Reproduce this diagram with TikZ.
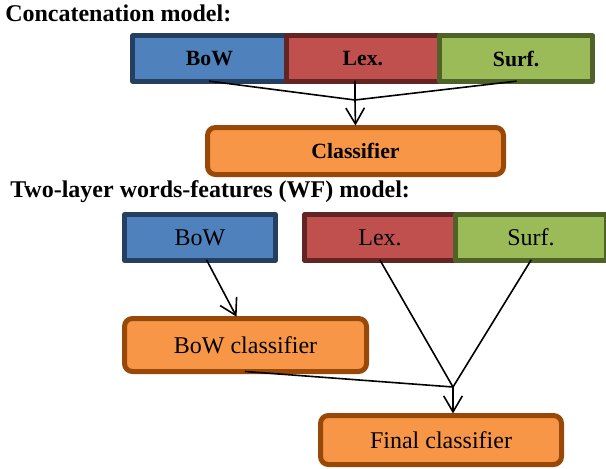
\documentclass[tikz,border=0pt]{standalone}
\usepackage{fontspec}
\setmainfont{Liberation Serif}
\usetikzlibrary{positioning,arrows.meta}
\definecolor{bowfill}{HTML}{4F81BD}
\definecolor{bowline}{HTML}{243F60}
\definecolor{lexfill}{HTML}{C0504D}
\definecolor{lexline}{HTML}{632523}
\definecolor{surffill}{HTML}{9BBB59}
\definecolor{surfline}{HTML}{4F6228}
\definecolor{clsfill}{HTML}{F79646}
\definecolor{clsline}{HTML}{984807}
\tikzset{
  feat/.style={line width=3.75pt, outer sep=0pt, inner sep=0pt, minimum height=34pt},
  clsbox/.style={draw=clsline, fill=clsfill, line width=3.75pt, rounded corners=6pt, outer sep=0pt, inner sep=0pt},
  bowbox/.style={feat, draw=bowline, fill=bowfill},
  lexbox/.style={feat, draw=lexline, fill=lexfill},
  surfbox/.style={feat, draw=surfline, fill=surffill},
  title/.style={anchor=base west, inner sep=0pt, font=\fontsize{18}{20}\selectfont\bfseries},
  arr/.style={line width=1.2pt, -{Straight Barb[length=12pt,width=14pt]}}
}
\begin{document}
\begin{tikzpicture}[x=0.75pt, y=-0.75pt, line join=round, line cap=round]
  \useasboundingbox (0,0) rectangle (606,468);
  % concatenation model
  \node[title] (titleA) at (5,21) {Concatenation model:};
  \begin{scope}[font=\fontsize{16.3}{18}\selectfont\bfseries, every node/.append style={minimum width=115pt, minimum height=33.75pt}]
    \node[bowbox] (bowA) at (209.5,58.5) {BoW};
    \node[lexbox, right=0pt of bowA] (lexA) {Lex.};
    \node[surfbox, right=0pt of lexA] (surfA) {Surf.};
    \node[clsbox, minimum width=222pt, minimum height=35.25pt] (clsA) at (355.5,151) {Classifier};
  \end{scope}
  \coordinate (joinA) at (355,100);
  \draw[line width=1.2pt] (bowA.south) -- (joinA) -- (surfA.south) (lexA.south -| joinA) -- (joinA);
  \draw[arr, shorten >=1.5pt] (joinA) -- (clsA.north);
  % two-layer WF model
  \node[title] (titleB) at (10,197) {Two-layer words-features (WF) model:};
  \begin{scope}[font=\fontsize{18}{20}\selectfont, every node/.append style={minimum width=113.25pt, minimum height=34.5pt}]
    \node[bowbox] (bowB) at (200,237.5) {BoW};
    \node[lexbox] (lexB) at (380,237.5) {Lex.};
    \node[surfbox, right=0pt of lexB] (surfB) {Surf.};
    \node[clsbox, minimum width=181.5pt, minimum height=39.75pt] (bowcls) at (245.5,345) {BoW classifier};
    \node[clsbox, minimum width=180.75pt, minimum height=36.75pt] (finalcls) at (441,440) {Final classifier};
  \end{scope}
  \coordinate (joinB) at (453,387);
  \draw[arr, shorten >=1.5pt] ([xshift=5pt]bowB.south) -- ([xshift=-6pt]bowcls.north);
  \draw[line width=1.2pt] (bowcls.south) -- (joinB) (lexB.south) -- (joinB) -- (surfB.south);
  \draw[arr, shorten >=1.5pt] (joinB) -- (joinB |- finalcls.north);
\end{tikzpicture}
\end{document}
